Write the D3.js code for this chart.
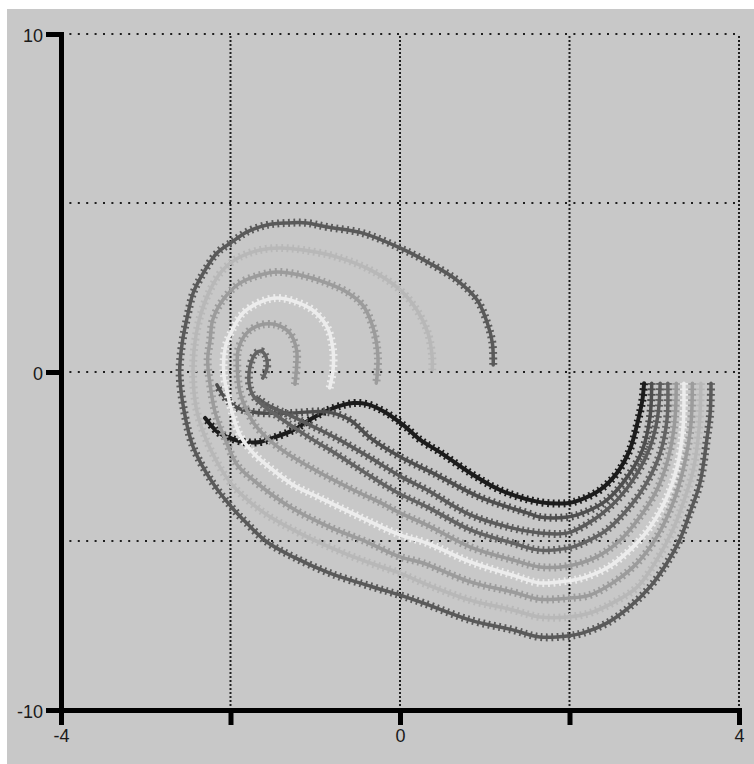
<!DOCTYPE html>
<html><head><meta charset="utf-8">
<script src="https://cdn.jsdelivr.net/npm/d3@7"></script>
<style>html,body{margin:0;padding:0;background:#fff;} svg{display:block}</style>
</head><body>
<svg id="chart" width="754" height="764"></svg>
<script>
// ---- data ----
const xTicks = [-4, -2, 0, 2, 4];
const xTickLabels = ["-4", "", "0", "", "4"];
const yTicks = [-10, 0, 10];
const yTickLabels = ["-10", "0", "10"];
const xGrid = [-2, 0, 2, 4];
const yGrid = [-5, 0, 5, 10];
const seriesColors = ["#1c1c1c", "#4f4f4f", "#5c5c5c", "#646464", "#9a9a9a", "#ececec", "#9c9c9c", "#b8b8b8", "#5a5a5a"];

const curve0 = [[2.88,-0.33],[2.86,-0.83],[2.81,-1.42],[2.71,-2.31],[2.56,-2.99],[2.36,-3.49],[2.12,-3.79],[1.97,-3.88],[1.65,-3.85],[1.18,-3.49],[0.83,-2.99],[0.47,-2.37],[0.24,-2.01],[0.04,-1.57],[-0.18,-1.18],[-0.39,-0.95],[-0.55,-0.92],[-0.79,-1.07],[-1.03,-1.36],[-1.26,-1.72],[-1.50,-1.95],[-1.65,-2.07],[-1.85,-2.07],[-2.04,-1.92],[-2.15,-1.78],[-2.30,-1.36]];
const curve1 = [[2.97,-0.33],[2.95,-1.33],[2.86,-2.31],[2.68,-3.11],[2.44,-3.79],[2.16,-4.17],[1.98,-4.29],[1.65,-4.29],[1.50,-4.17],[0.94,-3.70],[0.39,-2.99],[0,-2.51],[-0.35,-1.95],[-0.59,-1.42],[-0.86,-1.18],[-1.26,-1.21],[-1.65,-1.21],[-1.91,-1.07],[-2.06,-0.77],[-2.16,-0.38]];
const curve2 = [[3.07,-0.33],[3.04,-1.33],[2.95,-2.22],[2.80,-2.99],[2.56,-3.79],[2.28,-4.38],[1.98,-4.76],[1.65,-4.76],[1.33,-4.62],[0.83,-4.23],[0.32,-3.49],[0,-3.08],[-0.35,-2.54],[-0.71,-2.01],[-1.06,-1.57],[-1.36,-1.21],[-1.56,-0.98],[-1.68,-0.77]];
const curve3 = [[3.16,-0.33],[3.15,-1.42],[3.07,-2.40],[2.91,-3.28],[2.71,-3.99],[2.44,-4.67],[2.16,-5.06],[1.98,-5.21],[1.65,-5.27],[1.33,-5.06],[0.83,-4.67],[0.32,-3.99],[0,-3.61],[-0.35,-3.08],[-0.71,-2.49],[-1.10,-1.89],[-1.38,-1.42],[-1.59,-1.04],[-1.73,-0.71],[-1.78,-0.33],[-1.77,0.15],[-1.71,0.53],[-1.64,0.62],[-1.58,0.44],[-1.57,0.12],[-1.62,-0.18]];
const curve4 = [[3.26,-0.33],[3.24,-1.51],[3.16,-2.60],[3.03,-3.49],[2.83,-4.29],[2.60,-4.97],[2.32,-5.47],[1.98,-5.74],[1.65,-5.77],[1.33,-5.56],[0.83,-5.18],[0.32,-4.53],[0,-4.17],[-0.24,-3.85],[-0.55,-3.49],[-0.94,-2.99],[-1.30,-2.46],[-1.50,-2.10],[-1.71,-1.57],[-1.81,-1.12],[-1.88,-0.68],[-1.91,-0.24],[-1.92,0.21],[-1.91,0.65],[-1.81,1.15],[-1.65,1.39],[-1.45,1.39],[-1.30,1.15],[-1.22,0.65],[-1.22,0.15],[-1.24,-0.36]];
const curve5 = [[3.35,-0.33],[3.34,-1.63],[3.27,-2.81],[3.15,-3.70],[2.95,-4.59],[2.71,-5.27],[2.44,-5.80],[2.16,-6.09],[1.98,-6.18],[1.65,-6.24],[1.33,-6.01],[0.83,-5.62],[0.32,-5.06],[0,-4.82],[-0.47,-4.29],[-0.94,-3.73],[-1.26,-3.34],[-1.53,-2.84],[-1.73,-2.40],[-1.89,-1.86],[-1.98,-1.21],[-2.04,-0.59],[-2.08,-0.03],[-2.06,0.74],[-1.98,1.24],[-1.85,1.75],[-1.65,2.07],[-1.45,2.19],[-1.22,2.07],[-1.03,1.83],[-0.86,1.33],[-0.79,0.65],[-0.79,0.06],[-0.83,-0.47]];
const curve6 = [[3.45,-0.33],[3.43,-1.63],[3.34,-2.90],[3.22,-3.88],[3.03,-4.88],[2.80,-5.65],[2.51,-6.24],[2.24,-6.60],[1.98,-6.69],[1.65,-6.72],[1.33,-6.51],[0.83,-6.21],[0.27,-5.65],[0,-5.47],[-0.39,-5.03],[-0.83,-4.59],[-1.30,-3.99],[-1.73,-3.20],[-1.92,-2.75],[-2.06,-2.01],[-2.18,-1.21],[-2.24,-0.38],[-2.27,0.36],[-2.24,0.95],[-2.21,1.54],[-2.09,2.13],[-1.89,2.63],[-1.65,2.87],[-1.45,2.96],[-1.18,2.87],[-0.86,2.63],[-0.63,2.37],[-0.44,1.98],[-0.32,1.33],[-0.26,0.44],[-0.28,-0.33]];
const curve7 = [[3.55,-0.33],[3.53,-1.63],[3.46,-2.90],[3.34,-3.88],[3.22,-4.67],[3.03,-5.56],[2.80,-6.36],[2.51,-6.83],[2.24,-7.13],[1.98,-7.25],[1.65,-7.25],[1.33,-7.04],[0.83,-6.75],[0.27,-6.24],[0,-5.95],[-0.39,-5.62],[-0.83,-5.18],[-1.26,-4.67],[-1.62,-4.14],[-1.98,-3.34],[-2.16,-2.66],[-2.30,-1.92],[-2.40,-1.12],[-2.44,-0.24],[-2.43,0.65],[-2.36,1.63],[-2.24,2.43],[-2.09,3.02],[-1.89,3.40],[-1.65,3.61],[-1.42,3.67],[-1.14,3.61],[-0.74,3.40],[-0.35,3.02],[0,2.43],[0.20,1.83],[0.33,1.15],[0.38,0.44],[0.38,0.06]];
const curve8 = [[3.67,-0.33],[3.66,-1.21],[3.62,-2.01],[3.54,-3.28],[3.42,-4.17],[3.30,-4.97],[3.15,-5.65],[2.95,-6.36],[2.71,-6.95],[2.44,-7.43],[2.16,-7.72],[1.98,-7.81],[1.65,-7.84],[1.33,-7.63],[0.83,-7.34],[0.27,-6.83],[0,-6.60],[-0.32,-6.36],[-0.83,-5.95],[-1.26,-5.47],[-1.57,-5.03],[-1.81,-4.47],[-1.98,-4.02],[-2.21,-3.28],[-2.44,-2.22],[-2.55,-1.12],[-2.60,-0.03],[-2.57,0.86],[-2.51,1.63],[-2.44,2.34],[-2.32,2.93],[-2.16,3.52],[-1.98,3.85],[-1.81,4.14],[-1.57,4.35],[-1.33,4.41],[-1.10,4.41],[-0.86,4.29],[-0.44,4.11],[0,3.67],[0.35,3.22],[0.67,2.72],[0.91,2.13],[1.03,1.45],[1.09,0.86],[1.10,0.21]];
const curves = [curve0, curve1, curve2, curve3, curve4, curve5, curve6, curve7, curve8];

// ---- layout ----
const svg = d3.select("#chart");
const x = d3.scaleLinear().domain([-4, 4]).range([61, 739]);
const y = d3.scaleLinear().domain([-10, 10]).range([710, 34]);
const fontFam = "'Liberation Sans Narrow','Arial Narrow','Liberation Sans',Arial,sans-serif";

svg.append("rect").attr("x", 7).attr("y", 9).attr("width", 747).attr("height", 755).attr("fill", "#c8c8c8");

// grid
svg.append("g").selectAll("line").data(yGrid).join("line")
  .attr("x1", x(-4)).attr("x2", x(4)).attr("y1", d => y(d)).attr("y2", d => y(d))
  .attr("stroke", "#1e1e1e").attr("stroke-width", 2).attr("stroke-dasharray", "2 6.4");
svg.append("g").selectAll("line").data(xGrid).join("line")
  .attr("x1", d => x(d)).attr("x2", d => x(d)).attr("y1", y(-10)).attr("y2", y(10))
  .attr("stroke", "#1e1e1e").attr("stroke-width", 2).attr("stroke-dasharray", "2 2");

// curves
const line = d3.line().x(d => x(d[0])).y(d => y(d[1])).curve(d3.curveCatmullRom.alpha(0.5));
const gC = svg.append("g");
curves.forEach((c, i) => {
  gC.append("path").attr("d", line(c)).attr("fill", "none")
    .attr("stroke", seriesColors[i]).attr("stroke-width", i === 0 ? 4 : 3.5)
    .attr("stroke-linejoin", "round").attr("stroke-linecap", "round");
  gC.append("path").attr("d", line(c)).attr("fill", "none")
    .attr("stroke", seriesColors[i]).attr("stroke-width", 8)
    .attr("stroke-dasharray", "1.8 3.6");
});

// axes
const xAxis = d3.axisBottom(x).tickValues(xTicks).tickFormat((d, i) => xTickLabels[i])
  .tickSize(15).tickSizeOuter(0).tickPadding(6);
const gx = svg.append("g").attr("transform", `translate(0,${y(-10)})`).call(xAxis);
const yAxis = d3.axisLeft(y).tickValues(yTicks).tickFormat((d, i) => yTickLabels[i])
  .tickSize(15).tickSizeOuter(0).tickPadding(3);
const gy = svg.append("g").attr("transform", `translate(${x(-4)},0)`).call(yAxis);
[gx, gy].forEach(g => {
  g.select(".domain").attr("stroke", "#000").attr("stroke-width", 5).attr("stroke-linecap", "square");
  g.selectAll(".tick line").attr("stroke", "#000").attr("stroke-width", 5);
  g.selectAll(".tick text").attr("fill", "#1a1a1a").style("font-family", fontFam).style("font-size", "18px");
});
gx.selectAll(".tick text").attr("dy", "0.6em");
gy.selectAll(".tick text").attr("dy", "0.4em");
</script>
</body></html>
